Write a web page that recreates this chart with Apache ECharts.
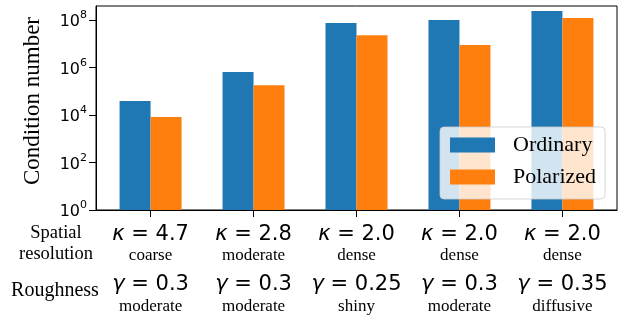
<!DOCTYPE html>
<html><head><meta charset="utf-8">
<script src="https://cdn.jsdelivr.net/npm/echarts@6/dist/echarts.min.js"></script>
<style>html,body{margin:0;padding:0;background:#fff}#c{width:625px;height:320px}</style>
</head><body><div id="c"></div>
<script>
const positions = [0, 1, 2, 3, 4];
const kappa = ['4.7', '2.8', '2.0', '2.0', '2.0'];
const resolutionWords = ['coarse', 'moderate', 'dense', 'dense', 'dense'];
const gamma = ['0.3', '0.3', '0.25', '0.3', '0.35'];
const roughnessWords = ['moderate', 'moderate', 'shiny', 'moderate', 'diffusive'];
const ordinary = [3.9e4, 6.5e5, 7.5e7, 1.0e8, 2.4e8];
const polarized = [8.2e3, 1.8e5, 2.3e7, 8.9e6, 1.2e8];
const yTicks = [1, 1e2, 1e4, 1e6, 1e8];
const seriesNames = ['Ordinary', 'Polarized'];
const rowTitles = ['Spatial\nresolution', 'Roughness'];
const yTitle = 'Condition number';

const serif = '"Liberation Serif", "Times New Roman", serif';
const sans = '"DejaVu Sans", sans-serif';

const chart = echarts.init(document.getElementById('c'), null, {renderer: 'canvas'});
chart.setOption({
  animation: false,
  backgroundColor: '#fff',
  grid: {left: 96, right: 8, top: 6, bottom: 110, show: true, borderColor: '#000', borderWidth: 1, backgroundColor: 'transparent'},
  xAxis: {
    type: 'value', min: -0.53, max: 4.53,
    splitLine: {show: false},
    axisLine: {show: true, onZero: false, lineStyle: {color: '#000', width: 1}},
    axisTick: {show: true, length: 7, lineStyle: {color: '#000', width: 1}, customValues: positions},
    axisLabel: {
      customValues: positions, margin: 17, color: '#000',
      formatter: function (v) {
        const i = Math.round(v);
        return '{g|κ}{m| = ' + kappa[i] + '}\n{w|' + resolutionWords[i] + '}\n{g2|γ}{m2| = ' + gamma[i] + '}\n{w2|' + roughnessWords[i] + '}';
      },
      rich: {
        g: {fontFamily: sans, fontSize: 21, fontStyle: 'italic', lineHeight: 16, color: '#000'},
        m: {fontFamily: sans, fontSize: 21, lineHeight: 16, color: '#000'},
        w: {fontFamily: serif, fontSize: 17, lineHeight: 26, color: '#000'},
        g2: {fontFamily: sans, fontSize: 21, fontStyle: 'italic', lineHeight: 31, color: '#000'},
        m2: {fontFamily: sans, fontSize: 21, lineHeight: 31, color: '#000'},
        w2: {fontFamily: serif, fontSize: 17, lineHeight: 14, color: '#000'}
      }
    }
  },
  yAxis: {
    type: 'log', logBase: 10, min: 1, max: 3.88e8,
    name: yTitle, nameLocation: 'middle', nameGap: 52, nameMoveOverlap: false,
    nameTextStyle: {fontFamily: serif, fontSize: 23, color: '#000', padding: [0, 0, 0, 14]},
    splitLine: {show: false},
    axisLine: {show: true, onZero: false, lineStyle: {color: '#000', width: 1}},
    axisTick: {show: true, length: 7, lineStyle: {color: '#000', width: 1}, customValues: yTicks},
    axisLabel: {
      customValues: yTicks, margin: 9, color: '#000',
      formatter: function (v) {
        const e = Math.round(Math.log10(v));
        return '{b|10}{s|' + e + '}';
      },
      rich: {
        b: {fontFamily: sans, fontSize: 16, lineHeight: 20, verticalAlign: 'bottom', color: '#000'},
        s: {fontFamily: sans, fontSize: 11, lineHeight: 12, verticalAlign: 'top', color: '#000'}
      }
    }
  },
  legend: {
    orient: 'vertical', left: 440, top: 127,
    padding: [7, 9, 11, 10], itemGap: 10, itemWidth: 45, itemHeight: 15,
    icon: 'rect', selectedMode: false,
    backgroundColor: 'rgba(255,255,255,0.8)', borderColor: 'rgba(204,204,204,0.8)', borderWidth: 1, borderRadius: 4,
    textStyle: {fontFamily: serif, fontSize: 22, lineHeight: 22, color: '#000', padding: [0, 0, 0, 13]},
    data: seriesNames
  },
  series: [
    {name: seriesNames[0], type: 'bar', barWidth: 31, barGap: '0%', itemStyle: {color: '#1f77b4'},
     data: positions.map((p, i) => [p, ordinary[i]])},
    {name: seriesNames[1], type: 'bar', barWidth: 31, barGap: '0%', itemStyle: {color: '#ff7f0e'},
     data: positions.map((p, i) => [p, polarized[i]])}
  ],
  graphic: [
    {type: 'text', x: 56, y: 243.5, style: {text: rowTitles[0], font: '18.5px ' + serif, lineHeight: 21.5, align: 'center', verticalAlign: 'middle', fill: '#000'}},
    {type: 'text', x: 55, y: 291, style: {text: rowTitles[1], font: '20px ' + serif, align: 'center', verticalAlign: 'middle', fill: '#000'}}
  ]
});
</script></body></html>
